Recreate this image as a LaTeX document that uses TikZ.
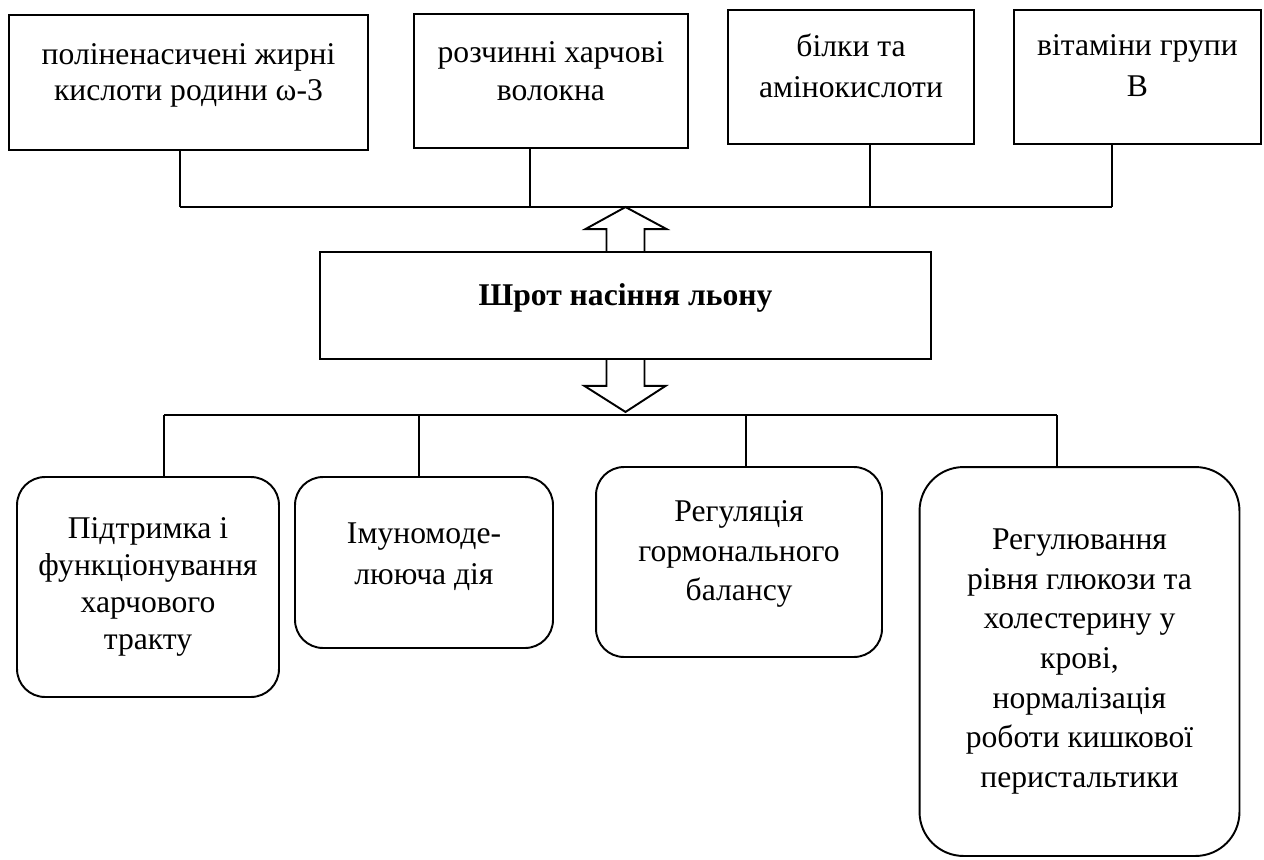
\documentclass[tikz,border=0pt]{standalone}
\usepackage{fontspec}
\setmainfont{Liberation Serif}
\usetikzlibrary{calc}
\newcommand{\boxfont}[1]{\fontsize{18}{#1}\selectfont}
\tikzset{
  source/.style={draw, rectangle, line width=1.1pt, align=center, text depth=12.5pt, font=\boxfont{20.5pt}},
  flax/.style={draw, rectangle, line width=1.1pt, align=center, text depth=13pt, font=\boxfont{20.5pt}\bfseries},
  effect/.style={draw, rectangle, rounded corners=0.56cm, line width=1.1pt, align=center, font=\boxfont{21pt}},
  bus/.style={line width=0.6pt},
  hollow/.style={draw, line width=1.1pt, line join=miter},
}

\begin{document}
\begin{tikzpicture}[x=0.02cm, y=-0.02cm]
    \useasboundingbox (0,0) rectangle (1264,859);
    \node[source, text depth=11.7pt, minimum width=7.18cm, minimum height=2.70cm] (t1) at (188.5,82.5) {поліненасичені жирні\\кислоти родини ω-3};
    \node[source, text depth=11.4pt, font=\boxfont{21.5pt}, minimum width=5.48cm, minimum height=2.68cm] (t2) at (551,81) {розчинні харчові\\волокна};
    \node[source, text depth=13pt, font=\boxfont{23pt}, minimum width=4.92cm, minimum height=2.68cm] (t3) at (851,77) {білки та\\амінокислоти};
    \node[source, text depth=13pt, font=\boxfont{23pt}, minimum width=4.94cm, minimum height=2.68cm] (t4) at (1137.5,77) {вітаміни групи\\В};
    \node[flax, minimum width=12.22cm, minimum height=2.14cm] (c) at (625.5,305.5) {Шрот насіння льону};
    \node[effect, minimum width=5.24cm, minimum height=4.40cm] (b1) at (148,587) {Підтримка і\\функціонування\\харчового\\тракту};
    \node[effect, text depth=10pt, font=\boxfont{23.5pt}, minimum width=5.16cm, minimum height=3.42cm] (b2) at (424,562.5) {Імуномоде-\\лююча дія};
    \node[effect, text depth=13pt, font=\boxfont{22.5pt}, minimum width=5.72cm, minimum height=3.80cm] (b3) at (739,562) {Регуляція\\гормонального\\балансу};
    \node[effect, rounded corners=0.88cm, font=\boxfont{22.5pt}, minimum width=6.40cm, minimum height=7.78cm] (b4) at (1079.5,661.5) {Регулювання\\рівня глюкози та\\холестерину у\\крові,\\нормалізація\\роботи кишкової\\перистальтики};

    \coordinate (tj1) at (180,207);
    \coordinate (tj2) at (530,207);
    \coordinate (tj3) at (870,207);
    \coordinate (tj4) at (1112,207);
    \coordinate (bj1) at (164,415);
    \coordinate (bj2) at (419,415);
    \coordinate (bj3) at (746,415);
    \coordinate (bj4) at (1057,415);

    \draw[bus] (tj1) -- (tj4);
    \draw[bus] (t1.south -| tj1) -- (tj1);
    \draw[bus] (t2.south -| tj2) -- (tj2);
    \draw[bus] (t3.south -| tj3) -- (tj3);
    \draw[bus] (t4.south -| tj4) -- (tj4);

    \draw[bus] (bj1) -- (bj4);
    \draw[bus] (bj1) -- (bj1 |- b1.north);
    \draw[bus] (bj2) -- (bj2 |- b2.north);
    \draw[bus] (bj3) -- (bj3 |- b3.north);
    \draw[bus] (bj4) -- (bj4 |- b4.north);

    \draw[hollow] ($(c.north)+(-19,0)$) -- ++(0,-22) -- ++(-21,0)
      -- ($(c.north)+(0,-44)$) -- ($(c.north)+(41,-22)$) -- ++(-22,0) -- ++(0,22);
    \draw[hollow] ($(c.south)+(-19,0)$) -- ++(0,26) -- ++(-22,0)
      -- ($(c.south)+(0,52)$) -- ($(c.south)+(40,26)$) -- ++(-21,0) -- ++(0,-26);
\end{tikzpicture}
\end{document}
